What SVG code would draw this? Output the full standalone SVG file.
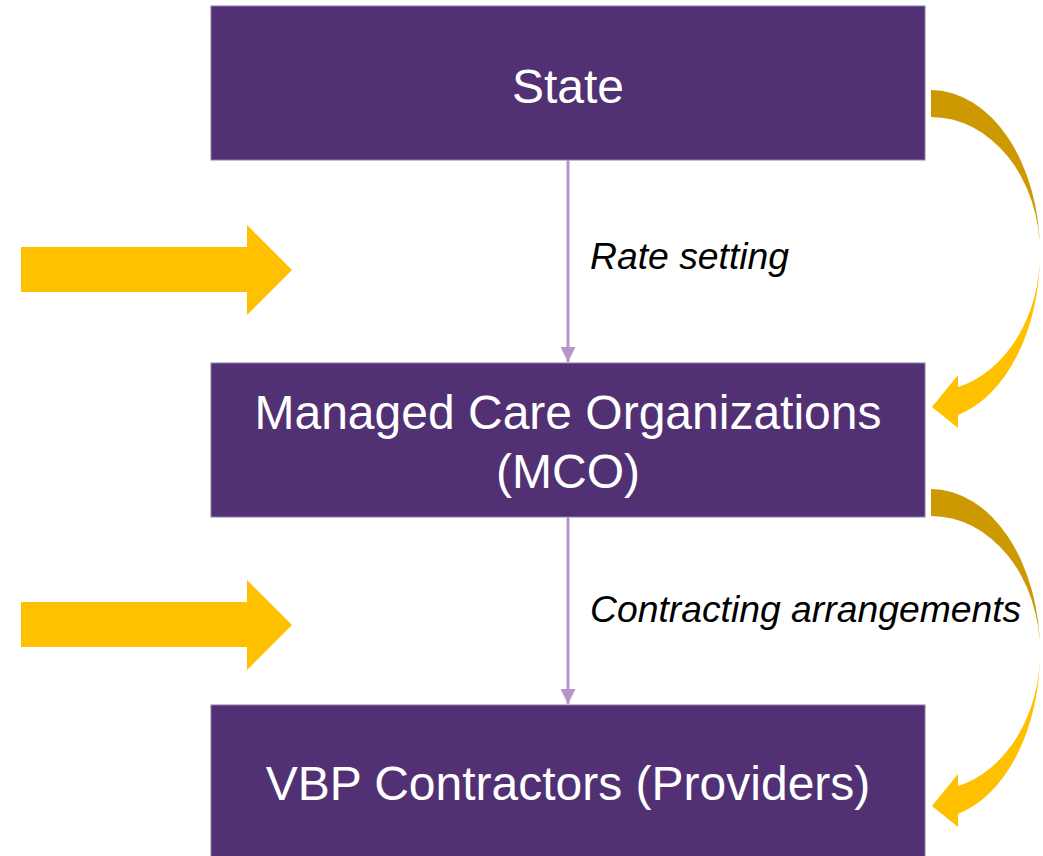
<svg xmlns="http://www.w3.org/2000/svg" width="1043" height="856" viewBox="0 0 1043 856">
<defs>
<style>
.box{fill:#513174;stroke:#8e7aab;stroke-width:1}
.t{font-family:"Liberation Sans",Arial,sans-serif;font-size:48px;fill:#ffffff;text-anchor:middle}
.lbl{font-family:"Liberation Sans",Arial,sans-serif;font-size:37.3px;font-style:italic;fill:#000000}
.conn{stroke:#b894c8;stroke-width:3;fill:none}
.blk{fill:#ffc000}
.dark{fill:#cc9900}
.light{fill:#ffc000}
</style>
<marker id="ah" viewBox="0 0 10 10" refX="10" refY="5" markerWidth="5" markerHeight="5" orient="auto" markerUnits="strokeWidth">
<path d="M0,0 L10,5 L0,10 Z" fill="#b894c8"/>
</marker>
<g id="curved">
<path class="dark" d="M931,90 A109,163 0 0 1 1040,253 A109,136 0 0 0 931,117 Z"/>
<path class="light" d="M1040,253 A109,167 0 0 1 958,415 L958,428 L932,407 L958,375 L958,387 A109,138 0 0 0 1040,253 Z"/>
</g>
<path id="block" d="M21,247 L247,247 L247,225 L292,270 L247,315 L247,292 L21,292 Z"/>
</defs>
<g id="state">
<rect class="box" x="211" y="6" width="714" height="154"/>
<text class="t" x="568" y="103">State</text>
</g>
<g id="mco">
<rect class="box" x="211" y="363" width="714" height="154"/>
<text class="t" x="568" y="429">Managed Care Organizations</text>
<text class="t" x="568" y="488">(MCO)</text>
</g>
<g id="vbp">
<rect class="box" x="211" y="705" width="714" height="160"/>
<text class="t" x="568" y="800">VBP Contractors (Providers)</text>
</g>
<g id="connectors">
<line class="conn" x1="568" y1="160" x2="568" y2="362" marker-end="url(#ah)"/>
<line class="conn" x1="568" y1="517" x2="568" y2="704" marker-end="url(#ah)"/>
<use href="#curved"/>
<use href="#curved" transform="translate(0,399)"/>
<use href="#block" class="blk"/>
<use href="#block" class="blk" transform="translate(0,355)"/>
</g>
<g id="labels">
<text class="lbl" x="590" y="269">Rate setting</text>
<text class="lbl" x="590" y="622">Contracting arrangements</text>
</g>
</svg>
